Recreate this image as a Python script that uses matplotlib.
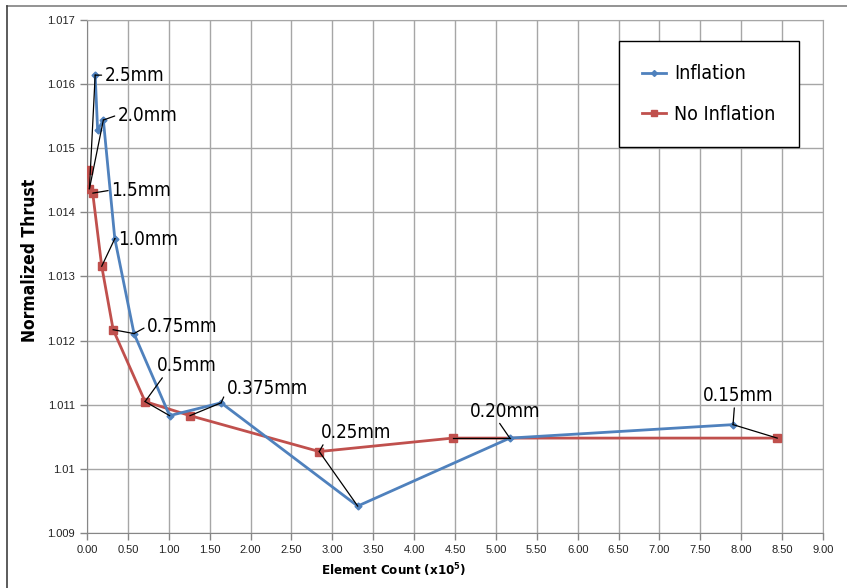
import matplotlib
matplotlib.use("Agg")
import matplotlib.pyplot as plt
from matplotlib.ticker import MultipleLocator, FuncFormatter
from matplotlib.lines import Line2D

# element count (x10^5) and normalized thrust
infl_x = [0.10, 0.13, 0.20, 0.34, 0.575, 1.01, 1.64, 3.31, 5.17, 7.90]
infl_y = [1.01614, 1.01528, 1.01544, 1.01359, 1.01211, 1.01083, 1.01103, 1.00942, 1.01048, 1.01069]
noinf_x = [0.01, 0.03, 0.07, 0.18, 0.32, 0.71, 1.26, 2.84, 4.47, 8.44]
noinf_y = [1.01466, 1.01437, 1.01430, 1.01316, 1.01217, 1.01105, 1.01083, 1.01027, 1.01048, 1.01048]

mesh_labels = ["2.5mm", "2.0mm", "1.5mm", "1.0mm", "0.75mm", "0.5mm",
               "0.375mm", "0.25mm", "0.20mm", "0.15mm"]

blue = "#4F81BD"
red = "#C0504D"
cond = dict(family="DejaVu Sans", fontstretch="condensed")

fig = plt.figure(figsize=(8.47, 5.88), dpi=100)
ax = fig.add_axes([87/847, 1-533/588, (823-87)/847, (533-20)/588])

ax.plot(noinf_x, noinf_y, color=red, lw=2.0, marker="s", ms=6, zorder=3, label="No Inflation")
ax.plot(infl_x, infl_y, color=blue, lw=2.0, marker="D", ms=3.5, zorder=4, label="Inflation")

# label placement: anchor series/index, second series/index, text-centre offset px, relpos
S = {"b": (infl_x, infl_y), "r": (noinf_x, noinf_y)}
leaders = [
    ("b", 0, "r", 1, (39, 0), (0, 0.5)),
    ("b", 2, "r", 1, (44, 5), (0, 0.5)),
    ("r", 2, None, 0, (48, 3), (0, 0.5)),
    ("b", 3, "r", 3, (33, -1), (0, 0.5)),
    ("b", 4, "r", 4, (48, 7), (0, 0.5)),
    ("r", 5, "b", 5, (42, 36), (0.12, 0)),
    ("b", 6, "r", 6, (46, 14), (0, 0.4)),
    ("r", 7, "b", 7, (37, 19), (0.05, 0)),
    ("b", 8, "r", 8, (-5, 27), (0.4, 0)),
    ("b", 9, "r", 9, (5, 29), (0.45, 0)),
]
for lab, (sa, ia, sb, ib, off, rp) in zip(mesh_labels, leaders):
    xa, ya = S[sa][0][ia], S[sa][1][ia]
    ax.annotate(lab, (xa, ya), xytext=off, textcoords="offset pixels",
                ha="center", va="center", fontsize=13.5, zorder=6, **cond,
                arrowprops=dict(arrowstyle="-", color="black", lw=0.9,
                                shrinkA=0, shrinkB=0, relpos=rp))
    if sb is not None:
        xb, yb = S[sb][0][ib], S[sb][1][ib]
        ax.plot([xa, xb], [ya, yb], color="black", lw=0.9, zorder=5)

ax.set_xlim(0, 9)
ax.set_ylim(1.009, 1.017)
ax.xaxis.set_major_locator(MultipleLocator(0.5))
ax.yaxis.set_major_locator(MultipleLocator(0.001))
ax.xaxis.set_major_formatter(FuncFormatter(lambda v, p: "%.2f" % v))
ax.yaxis.set_major_formatter(FuncFormatter(lambda v, p: ("%.3f" % v).rstrip("0")))
ax.grid(True, color="#A6A6A6", lw=1.0, zorder=0)
for s in ax.spines.values():
    s.set_color("#A6A6A6")
ax.spines["left"].set_color("#868686")
ax.spines["bottom"].set_color("#868686")
ax.tick_params(length=5, width=1, color="#868686", labelsize=8, labelcolor="#222222")
for t in ax.get_xticklabels() + ax.get_yticklabels():
    t.set_family(["Liberation Sans", "DejaVu Sans"])

ax.set_xlabel("Element Count (x10$^{\\mathregular{5}}$)", fontsize=9.5, fontweight="bold", **cond)
ax.xaxis.set_label_coords((394-87)/736, -(561-533)/513)
ax.set_ylabel("Normalized Thrust", fontsize=12.5, fontweight="bold", **cond)
ax.yaxis.set_label_coords(-(87-39)/736, 1-(260-20)/513)

handles = [Line2D([], [], color=blue, lw=2, marker="D", ms=3),
           Line2D([], [], color=red, lw=2, marker="s", ms=4)]
leg = ax.legend(handles, ["Inflation", "No Inflation"], loc="upper left",
                bbox_to_anchor=((619-87)/736, 1-(41-20)/513), borderaxespad=0,
                prop=dict(size=14, family="DejaVu Sans", stretch="condensed"),
                frameon=True, fancybox=False, framealpha=1, edgecolor="black",
                handlelength=1.2, handletextpad=0.45, borderpad=1.2, labelspacing=1.1)
leg.get_frame().set_linewidth(1.0)

# outer chart-area border (top and left visible)
fig.add_artist(Line2D([7/847, 1], [1-6/588, 1-6/588], color="#808080", lw=1.2))
fig.add_artist(Line2D([7/847, 7/847], [0, 1-6/588], color="#404040", lw=1.2))

fig.savefig("out.png", dpi=100)
